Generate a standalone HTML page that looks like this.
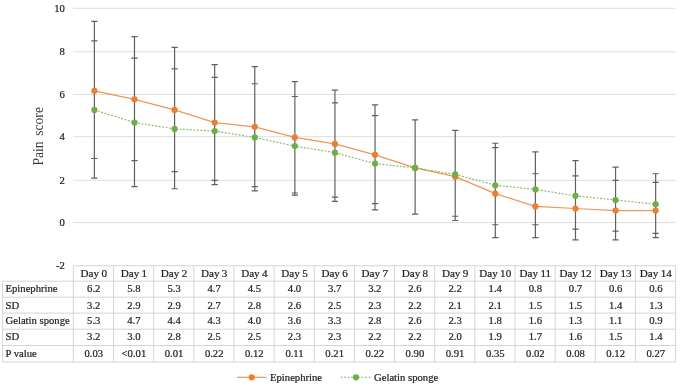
<!DOCTYPE html>
<html lang="en"><head><meta charset="utf-8"><title>Pain score chart</title>
<style>html,body{margin:0;padding:0;background:#fff}svg{display:block}text{stroke:#1f1f1f;stroke-width:.22px}</style></head>
<body>
<svg width="685" height="387" viewBox="0 0 685 387" font-family="'Liberation Serif', serif" font-size="10.67" fill="#1f1f1f">
<rect width="685" height="387" fill="#fff"/>
<line x1="72.9" x2="675.6" y1="8.30" y2="8.30" stroke="#dedede" stroke-width="1"/>
<line x1="72.9" x2="675.6" y1="51.80" y2="51.80" stroke="#dedede" stroke-width="1"/>
<line x1="72.9" x2="675.6" y1="94.40" y2="94.40" stroke="#dedede" stroke-width="1"/>
<line x1="72.9" x2="675.6" y1="136.70" y2="136.70" stroke="#dedede" stroke-width="1"/>
<line x1="72.9" x2="675.6" y1="180.30" y2="180.30" stroke="#dedede" stroke-width="1"/>
<line x1="72.9" x2="675.6" y1="222.60" y2="222.60" stroke="#dedede" stroke-width="1"/>
<text x="64.8" y="11.90" text-anchor="end">10</text>
<text x="64.8" y="55.40" text-anchor="end">8</text>
<text x="64.8" y="98.00" text-anchor="end">6</text>
<text x="64.8" y="140.30" text-anchor="end">4</text>
<text x="64.8" y="183.90" text-anchor="end">2</text>
<text x="64.8" y="226.20" text-anchor="end">0</text>
<text x="64.8" y="269.30" text-anchor="end">-2</text>
<text transform="translate(42.8,136.3) rotate(-90)" text-anchor="middle" font-size="13.6" word-spacing="2.2" fill="#3a3a3a" style="stroke:none">Pain score</text>
<path d="M94.40 21.35V178.12M91.30 21.35h6.2M91.30 158.50h6.2M91.30 40.92h6.2M91.30 178.12h6.2" stroke="#606060" stroke-width="1.2" fill="none"/>
<path d="M134.49 36.58V186.65M131.39 36.58h6.2M131.39 160.68h6.2M131.39 58.19h6.2M131.39 186.65h6.2" stroke="#606060" stroke-width="1.2" fill="none"/>
<path d="M174.58 47.45V188.76M171.48 47.45h6.2M171.48 171.58h6.2M171.48 68.84h6.2M171.48 188.76h6.2" stroke="#606060" stroke-width="1.2" fill="none"/>
<path d="M214.67 64.58V184.53M211.57 64.58h6.2M211.57 180.30h6.2M211.57 77.36h6.2M211.57 184.53h6.2" stroke="#606060" stroke-width="1.2" fill="none"/>
<path d="M254.76 66.71V190.88M251.66 66.71h6.2M251.66 186.65h6.2M251.66 83.75h6.2M251.66 190.88h6.2" stroke="#606060" stroke-width="1.2" fill="none"/>
<path d="M294.85 81.62V195.10M291.75 81.62h6.2M291.75 192.99h6.2M291.75 96.52h6.2M291.75 195.10h6.2" stroke="#606060" stroke-width="1.2" fill="none"/>
<path d="M334.94 90.14V201.45M331.84 90.14h6.2M331.84 197.22h6.2M331.84 102.86h6.2M331.84 201.45h6.2" stroke="#606060" stroke-width="1.2" fill="none"/>
<path d="M375.03 104.97V209.91M371.93 104.97h6.2M371.93 203.56h6.2M371.93 115.55h6.2M371.93 209.91h6.2" stroke="#606060" stroke-width="1.2" fill="none"/>
<path d="M415.12 119.78V214.14M412.02 119.78h6.2M412.02 214.14h6.2" stroke="#606060" stroke-width="1.2" fill="none"/>
<path d="M455.21 130.35V220.48M452.11 130.35h6.2M452.11 220.48h6.2M452.11 216.25h6.2" stroke="#606060" stroke-width="1.2" fill="none"/>
<path d="M495.30 143.24V237.69M492.20 147.60h6.2M492.20 237.69h6.2M492.20 143.24h6.2M492.20 224.75h6.2" stroke="#606060" stroke-width="1.2" fill="none"/>
<path d="M535.39 151.96V237.69M532.29 173.76h6.2M532.29 237.69h6.2M532.29 151.96h6.2M532.29 224.75h6.2" stroke="#606060" stroke-width="1.2" fill="none"/>
<path d="M575.48 160.68V239.84M572.38 175.94h6.2M572.38 239.84h6.2M572.38 160.68h6.2M572.38 229.06h6.2" stroke="#606060" stroke-width="1.2" fill="none"/>
<path d="M615.57 167.22V239.84M612.47 180.30h6.2M612.47 239.84h6.2M612.47 167.22h6.2M612.47 231.22h6.2" stroke="#606060" stroke-width="1.2" fill="none"/>
<path d="M655.66 173.76V237.69M652.56 182.42h6.2M652.56 237.69h6.2M652.56 173.76h6.2M652.56 233.38h6.2" stroke="#606060" stroke-width="1.2" fill="none"/>
<polyline points="94.40,90.84 134.49,99.33 174.58,109.91 214.67,122.59 254.76,126.83 294.85,137.40 334.94,143.94 375.03,154.84 415.12,167.92 455.21,176.64 495.30,193.69 535.39,206.38 575.48,208.50 615.57,210.61 655.66,210.61" fill="none" stroke="#ee9659" stroke-width="1.25" stroke-linejoin="round"/>
<polyline points="94.40,109.91 134.49,122.59 174.58,128.94 214.67,131.05 254.76,137.40 294.85,146.12 334.94,152.66 375.03,163.56 415.12,167.92 455.21,174.46 495.30,185.23 535.39,189.46 575.48,195.81 615.57,200.03 655.66,204.26" fill="none" stroke="#86b964" stroke-width="1.1" stroke-dasharray="2 1.5" stroke-linejoin="round"/>
<circle cx="94.40" cy="90.84" r="3.1" fill="#ed7d31"/>
<circle cx="134.49" cy="99.33" r="3.1" fill="#ed7d31"/>
<circle cx="174.58" cy="109.91" r="3.1" fill="#ed7d31"/>
<circle cx="214.67" cy="122.59" r="3.1" fill="#ed7d31"/>
<circle cx="254.76" cy="126.83" r="3.1" fill="#ed7d31"/>
<circle cx="294.85" cy="137.40" r="3.1" fill="#ed7d31"/>
<circle cx="334.94" cy="143.94" r="3.1" fill="#ed7d31"/>
<circle cx="375.03" cy="154.84" r="3.1" fill="#ed7d31"/>
<circle cx="415.12" cy="167.92" r="3.1" fill="#ed7d31"/>
<circle cx="455.21" cy="176.64" r="3.1" fill="#ed7d31"/>
<circle cx="495.30" cy="193.69" r="3.1" fill="#ed7d31"/>
<circle cx="535.39" cy="206.38" r="3.1" fill="#ed7d31"/>
<circle cx="575.48" cy="208.50" r="3.1" fill="#ed7d31"/>
<circle cx="615.57" cy="210.61" r="3.1" fill="#ed7d31"/>
<circle cx="655.66" cy="210.61" r="3.1" fill="#ed7d31"/>
<circle cx="94.40" cy="109.91" r="3.1" fill="#70ad47"/>
<circle cx="134.49" cy="122.59" r="3.1" fill="#70ad47"/>
<circle cx="174.58" cy="128.94" r="3.1" fill="#70ad47"/>
<circle cx="214.67" cy="131.05" r="3.1" fill="#70ad47"/>
<circle cx="254.76" cy="137.40" r="3.1" fill="#70ad47"/>
<circle cx="294.85" cy="146.12" r="3.1" fill="#70ad47"/>
<circle cx="334.94" cy="152.66" r="3.1" fill="#70ad47"/>
<circle cx="375.03" cy="163.56" r="3.1" fill="#70ad47"/>
<circle cx="415.12" cy="167.92" r="3.1" fill="#70ad47"/>
<circle cx="455.21" cy="174.46" r="3.1" fill="#70ad47"/>
<circle cx="495.30" cy="185.23" r="3.1" fill="#70ad47"/>
<circle cx="535.39" cy="189.46" r="3.1" fill="#70ad47"/>
<circle cx="575.48" cy="195.81" r="3.1" fill="#70ad47"/>
<circle cx="615.57" cy="200.03" r="3.1" fill="#70ad47"/>
<circle cx="655.66" cy="204.26" r="3.1" fill="#70ad47"/>
<line x1="73.4" x2="675.6" y1="265.75" y2="265.75" stroke="#d4d4d4"/>
<line x1="2.6" x2="675.6" y1="281.2" y2="281.2" stroke="#d4d4d4"/>
<line x1="2.6" x2="675.6" y1="297.2" y2="297.2" stroke="#d4d4d4"/>
<line x1="2.6" x2="675.6" y1="313.1" y2="313.1" stroke="#d4d4d4"/>
<line x1="2.6" x2="675.6" y1="329.2" y2="329.2" stroke="#d4d4d4"/>
<line x1="2.6" x2="675.6" y1="345.5" y2="345.5" stroke="#d4d4d4"/>
<line x1="2.6" x2="675.6" y1="362.0" y2="362.0" stroke="#d4d4d4"/>
<line x1="2.6" x2="2.6" y1="281.2" y2="362.0" stroke="#d4d4d4"/>
<line x1="73.40" x2="73.40" y1="265.75" y2="362.0" stroke="#d4d4d4"/>
<line x1="113.55" x2="113.55" y1="265.75" y2="362.0" stroke="#d4d4d4"/>
<line x1="153.69" x2="153.69" y1="265.75" y2="362.0" stroke="#d4d4d4"/>
<line x1="193.84" x2="193.84" y1="265.75" y2="362.0" stroke="#d4d4d4"/>
<line x1="233.99" x2="233.99" y1="265.75" y2="362.0" stroke="#d4d4d4"/>
<line x1="274.13" x2="274.13" y1="265.75" y2="362.0" stroke="#d4d4d4"/>
<line x1="314.28" x2="314.28" y1="265.75" y2="362.0" stroke="#d4d4d4"/>
<line x1="354.43" x2="354.43" y1="265.75" y2="362.0" stroke="#d4d4d4"/>
<line x1="394.57" x2="394.57" y1="265.75" y2="362.0" stroke="#d4d4d4"/>
<line x1="434.72" x2="434.72" y1="265.75" y2="362.0" stroke="#d4d4d4"/>
<line x1="474.87" x2="474.87" y1="265.75" y2="362.0" stroke="#d4d4d4"/>
<line x1="515.01" x2="515.01" y1="265.75" y2="362.0" stroke="#d4d4d4"/>
<line x1="555.16" x2="555.16" y1="265.75" y2="362.0" stroke="#d4d4d4"/>
<line x1="595.31" x2="595.31" y1="265.75" y2="362.0" stroke="#d4d4d4"/>
<line x1="635.45" x2="635.45" y1="265.75" y2="362.0" stroke="#d4d4d4"/>
<line x1="675.60" x2="675.60" y1="265.75" y2="362.0" stroke="#d4d4d4"/>
<text x="93.77" y="277.00" text-anchor="middle" font-size="11.1" word-spacing="-0.4">Day 0</text>
<text x="133.92" y="277.00" text-anchor="middle" font-size="11.1" word-spacing="-0.4">Day 1</text>
<text x="174.07" y="277.00" text-anchor="middle" font-size="11.1" word-spacing="-0.4">Day 2</text>
<text x="214.21" y="277.00" text-anchor="middle" font-size="11.1" word-spacing="-0.4">Day 3</text>
<text x="254.36" y="277.00" text-anchor="middle" font-size="11.1" word-spacing="-0.4">Day 4</text>
<text x="294.51" y="277.00" text-anchor="middle" font-size="11.1" word-spacing="-0.4">Day 5</text>
<text x="334.65" y="277.00" text-anchor="middle" font-size="11.1" word-spacing="-0.4">Day 6</text>
<text x="374.80" y="277.00" text-anchor="middle" font-size="11.1" word-spacing="-0.4">Day 7</text>
<text x="414.95" y="277.00" text-anchor="middle" font-size="11.1" word-spacing="-0.4">Day 8</text>
<text x="455.09" y="277.00" text-anchor="middle" font-size="11.1" word-spacing="-0.4">Day 9</text>
<text x="495.24" y="277.00" text-anchor="middle" font-size="11.1" word-spacing="-0.4">Day 10</text>
<text x="535.39" y="277.00" text-anchor="middle" font-size="11.1" word-spacing="-0.4">Day 11</text>
<text x="575.53" y="277.00" text-anchor="middle" font-size="11.1" word-spacing="-0.4">Day 12</text>
<text x="615.68" y="277.00" text-anchor="middle" font-size="11.1" word-spacing="-0.4">Day 13</text>
<text x="655.83" y="277.00" text-anchor="middle" font-size="11.1" word-spacing="-0.4">Day 14</text>
<text x="5.5" y="292.40">Epinephrine</text>
<text x="93.77" y="292.40" text-anchor="middle">6.2</text>
<text x="133.92" y="292.40" text-anchor="middle">5.8</text>
<text x="174.07" y="292.40" text-anchor="middle">5.3</text>
<text x="214.21" y="292.40" text-anchor="middle">4.7</text>
<text x="254.36" y="292.40" text-anchor="middle">4.5</text>
<text x="294.51" y="292.40" text-anchor="middle">4.0</text>
<text x="334.65" y="292.40" text-anchor="middle">3.7</text>
<text x="374.80" y="292.40" text-anchor="middle">3.2</text>
<text x="414.95" y="292.40" text-anchor="middle">2.6</text>
<text x="455.09" y="292.40" text-anchor="middle">2.2</text>
<text x="495.24" y="292.40" text-anchor="middle">1.4</text>
<text x="535.39" y="292.40" text-anchor="middle">0.8</text>
<text x="575.53" y="292.40" text-anchor="middle">0.7</text>
<text x="615.68" y="292.40" text-anchor="middle">0.6</text>
<text x="655.83" y="292.40" text-anchor="middle">0.6</text>
<text x="5.5" y="308.50">SD</text>
<text x="93.77" y="308.50" text-anchor="middle">3.2</text>
<text x="133.92" y="308.50" text-anchor="middle">2.9</text>
<text x="174.07" y="308.50" text-anchor="middle">2.9</text>
<text x="214.21" y="308.50" text-anchor="middle">2.7</text>
<text x="254.36" y="308.50" text-anchor="middle">2.8</text>
<text x="294.51" y="308.50" text-anchor="middle">2.6</text>
<text x="334.65" y="308.50" text-anchor="middle">2.5</text>
<text x="374.80" y="308.50" text-anchor="middle">2.3</text>
<text x="414.95" y="308.50" text-anchor="middle">2.2</text>
<text x="455.09" y="308.50" text-anchor="middle">2.1</text>
<text x="495.24" y="308.50" text-anchor="middle">2.1</text>
<text x="535.39" y="308.50" text-anchor="middle">1.5</text>
<text x="575.53" y="308.50" text-anchor="middle">1.5</text>
<text x="615.68" y="308.50" text-anchor="middle">1.4</text>
<text x="655.83" y="308.50" text-anchor="middle">1.3</text>
<text x="5.5" y="324.40">Gelatin sponge</text>
<text x="93.77" y="324.40" text-anchor="middle">5.3</text>
<text x="133.92" y="324.40" text-anchor="middle">4.7</text>
<text x="174.07" y="324.40" text-anchor="middle">4.4</text>
<text x="214.21" y="324.40" text-anchor="middle">4.3</text>
<text x="254.36" y="324.40" text-anchor="middle">4.0</text>
<text x="294.51" y="324.40" text-anchor="middle">3.6</text>
<text x="334.65" y="324.40" text-anchor="middle">3.3</text>
<text x="374.80" y="324.40" text-anchor="middle">2.8</text>
<text x="414.95" y="324.40" text-anchor="middle">2.6</text>
<text x="455.09" y="324.40" text-anchor="middle">2.3</text>
<text x="495.24" y="324.40" text-anchor="middle">1.8</text>
<text x="535.39" y="324.40" text-anchor="middle">1.6</text>
<text x="575.53" y="324.40" text-anchor="middle">1.3</text>
<text x="615.68" y="324.40" text-anchor="middle">1.1</text>
<text x="655.83" y="324.40" text-anchor="middle">0.9</text>
<text x="5.5" y="340.40">SD</text>
<text x="93.77" y="340.40" text-anchor="middle">3.2</text>
<text x="133.92" y="340.40" text-anchor="middle">3.0</text>
<text x="174.07" y="340.40" text-anchor="middle">2.8</text>
<text x="214.21" y="340.40" text-anchor="middle">2.5</text>
<text x="254.36" y="340.40" text-anchor="middle">2.5</text>
<text x="294.51" y="340.40" text-anchor="middle">2.3</text>
<text x="334.65" y="340.40" text-anchor="middle">2.3</text>
<text x="374.80" y="340.40" text-anchor="middle">2.2</text>
<text x="414.95" y="340.40" text-anchor="middle">2.2</text>
<text x="455.09" y="340.40" text-anchor="middle">2.0</text>
<text x="495.24" y="340.40" text-anchor="middle">1.9</text>
<text x="535.39" y="340.40" text-anchor="middle">1.7</text>
<text x="575.53" y="340.40" text-anchor="middle">1.6</text>
<text x="615.68" y="340.40" text-anchor="middle">1.5</text>
<text x="655.83" y="340.40" text-anchor="middle">1.4</text>
<text x="5.5" y="356.70">P value</text>
<text x="93.77" y="356.70" text-anchor="middle">0.03</text>
<text x="133.92" y="356.70" text-anchor="middle">&lt;0.01</text>
<text x="174.07" y="356.70" text-anchor="middle">0.01</text>
<text x="214.21" y="356.70" text-anchor="middle">0.22</text>
<text x="254.36" y="356.70" text-anchor="middle">0.12</text>
<text x="294.51" y="356.70" text-anchor="middle">0.11</text>
<text x="334.65" y="356.70" text-anchor="middle">0.21</text>
<text x="374.80" y="356.70" text-anchor="middle">0.22</text>
<text x="414.95" y="356.70" text-anchor="middle">0.90</text>
<text x="455.09" y="356.70" text-anchor="middle">0.91</text>
<text x="495.24" y="356.70" text-anchor="middle">0.35</text>
<text x="535.39" y="356.70" text-anchor="middle">0.02</text>
<text x="575.53" y="356.70" text-anchor="middle">0.08</text>
<text x="615.68" y="356.70" text-anchor="middle">0.12</text>
<text x="655.83" y="356.70" text-anchor="middle">0.27</text>
<line x1="237" x2="266.5" y1="377.3" y2="377.3" stroke="#ee9659" stroke-width="1.2"/>
<circle cx="251.7" cy="377.3" r="3.1" fill="#ed7d31"/>
<text x="270" y="380.80">Epinephrine</text>
<line x1="340.5" x2="370.5" y1="377.3" y2="377.3" stroke="#86b964" stroke-width="1.1" stroke-dasharray="2 1.5"/>
<circle cx="356" cy="377.3" r="3.1" fill="#70ad47"/>
<text x="374" y="380.80">Gelatin sponge</text>
</svg>
</body></html>
